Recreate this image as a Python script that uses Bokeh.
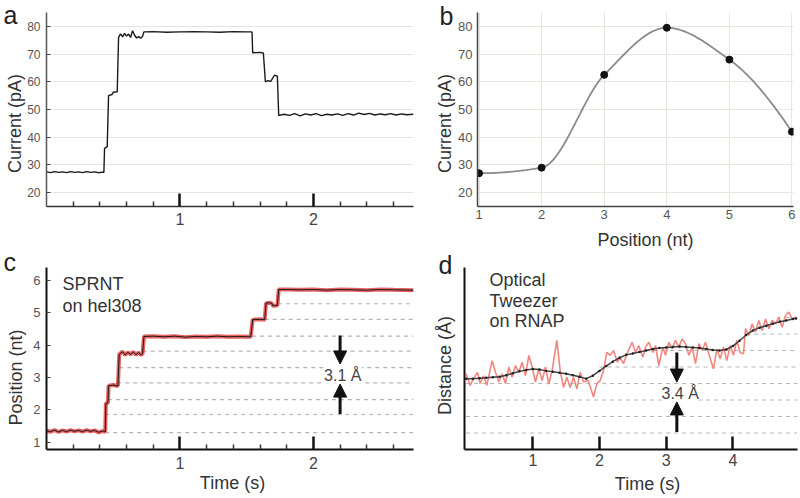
import numpy as np
from bokeh.plotting import figure
from bokeh.models import Range1d, FixedTicker, Label, Arrow, NormalHead, GridBox
from bokeh.layouts import row, column
from bokeh.embed import file_html
from bokeh.resources import INLINE

FONT = "Liberation Sans"

# ---------------- data ----------------
# panel a: current trace (time s, current pA)
a_time = [0.00, 0.03, 0.06, 0.09, 0.12, 0.15, 0.18, 0.21, 0.24, 0.27, 0.30, 0.33, 0.36, 0.39, 0.42, 0.43,
          0.435, 0.455, 0.465, 0.49, 0.50, 0.53, 0.54, 0.555, 0.57, 0.585, 0.60, 0.615, 0.63, 0.645, 0.66,
          0.675, 0.69, 0.705, 0.72, 0.73, 0.80, 0.90, 1.00, 1.10, 1.20, 1.30, 1.40, 1.50, 1.54, 1.545, 1.60,
          1.625, 1.64, 1.66, 1.68, 1.695, 1.71, 1.73, 1.74, 1.78, 1.82, 1.86, 1.90, 1.94, 1.98, 2.02, 2.06,
          2.10, 2.14, 2.18, 2.22, 2.26, 2.30, 2.34, 2.38, 2.42, 2.46, 2.50, 2.54, 2.58, 2.62, 2.66, 2.70, 2.75]
a_current = [27.5, 27.2, 27.6, 27.3, 27.5, 27.2, 27.6, 27.3, 27.5, 27.2, 27.6, 27.3, 27.5, 27.2, 27.4, 27.3,
             36.0, 36.6, 55.0, 55.4, 56.2, 56.4, 76.0, 77.3, 76.2, 77.5, 76.5, 77.2, 76.0, 78.4, 76.8,
             75.8, 76.3, 75.7, 76.4, 78.0, 78.1, 77.9, 78.0, 78.1, 78.0, 77.9, 78.1, 78.0, 78.0, 70.5, 70.6,
             70.4, 60.0, 60.4, 60.1, 61.3, 62.4, 62.0, 47.8, 48.3, 47.9, 48.5, 47.7, 48.4, 48.0, 48.5, 47.8,
             48.3, 48.0, 48.4, 47.9, 48.5, 48.0, 48.7, 48.2, 48.6, 48.0, 48.4, 48.1, 48.5, 48.0, 48.4, 48.1, 48.3]
a_yticks = [20, 30, 40, 50, 60, 70, 80]

# panel b: current per position
b_position = [1, 2, 3, 4, 5, 6]
b_current = [27.0, 29.0, 62.5, 79.5, 68.0, 42.0]

# panel c: SPRNT position trace (time s, position nt)
c_time = [0.00, 0.03, 0.06, 0.09, 0.12, 0.15, 0.18, 0.21, 0.24, 0.27, 0.30, 0.33, 0.36, 0.39, 0.42, 0.44,
          0.445, 0.46, 0.465, 0.50, 0.535, 0.545, 0.57, 0.59, 0.61, 0.63, 0.65, 0.67, 0.69, 0.71, 0.72,
          0.73, 0.80, 0.88, 0.96, 1.04, 1.12, 1.20, 1.28, 1.36, 1.44, 1.53, 1.545, 1.60, 1.635, 1.645, 1.67,
          1.69, 1.695, 1.73, 1.74, 1.80, 1.90, 2.00, 2.10, 2.20, 2.30, 2.40, 2.50, 2.60, 2.75]
c_position = [1.36, 1.33, 1.38, 1.32, 1.37, 1.33, 1.38, 1.34, 1.37, 1.33, 1.38, 1.34, 1.37, 1.31, 1.35, 1.33,
              2.20, 2.22, 2.75, 2.77, 2.74, 3.72, 3.80, 3.70, 3.78, 3.72, 3.79, 3.71, 3.77, 3.70, 3.74,
              4.27, 4.28, 4.26, 4.28, 4.25, 4.27, 4.26, 4.28, 4.26, 4.27, 4.26, 4.79, 4.80, 4.79, 5.30, 5.31,
              5.29, 5.22, 5.23, 5.72, 5.72, 5.71, 5.72, 5.70, 5.72, 5.71, 5.70, 5.72, 5.71, 5.70]
c_levels = [1.30, 1.86, 2.32, 2.84, 3.31, 3.82, 4.28, 4.80, 5.28]
c_level_start = [0.44, 0.44, 0.46, 0.53, 0.545, 0.72, 1.54, 1.635, 1.735]
c_yticks = [1, 2, 3, 4, 5, 6]

# panel d: optical tweezer (time s, distance A)
d_raw = [(0.00, 15.6), (0.06, 13.2), (0.11, 14.6), (0.17, 15.9), (0.21, 13.6), (0.26, 15.2), (0.31, 13.2),
         (0.39, 18.3), (0.44, 15.9), (0.49, 13.9), (0.54, 15.6), (0.59, 13.6), (0.64, 17.0), (0.69, 14.9),
         (0.74, 17.3), (0.79, 15.9), (0.84, 18.0), (0.89, 15.2), (0.94, 19.4), (0.99, 17.0), (1.04, 13.9),
         (1.09, 16.6), (1.14, 14.2), (1.19, 17.0), (1.24, 13.5), (1.29, 16.3), (1.36, 22.5), (1.41, 16.3),
         (1.46, 12.8), (1.51, 14.9), (1.56, 12.8), (1.61, 14.9), (1.66, 12.5), (1.71, 15.9), (1.76, 13.9),
         (1.83, 14.2), (1.91, 10.8), (1.96, 13.6), (2.01, 14.2), (2.06, 16.3), (2.11, 20.0), (2.16, 19.4),
         (2.21, 20.4), (2.27, 18.0), (2.31, 19.0), (2.36, 17.7), (2.42, 20.0), (2.49, 22.1), (2.54, 20.0),
         (2.59, 21.4), (2.65, 19.0), (2.69, 21.1), (2.74, 22.1), (2.80, 20.0), (2.84, 21.4), (2.89, 17.3),
         (2.95, 21.1), (2.99, 19.4), (3.04, 22.1), (3.09, 20.7), (3.14, 22.5), (3.19, 21.1), (3.24, 22.8),
         (3.29, 21.8), (3.34, 19.4), (3.39, 21.1), (3.44, 17.7), (3.49, 21.8), (3.54, 20.4), (3.59, 22.1),
         (3.64, 19.7), (3.71, 16.6), (3.76, 20.7), (3.81, 18.7), (3.86, 21.1), (3.91, 18.3), (3.96, 21.4),
         (4.01, 19.4), (4.06, 22.5), (4.11, 20.0), (4.16, 19.7), (4.19, 24.9), (4.24, 23.5), (4.29, 25.9),
         (4.34, 24.2), (4.39, 26.6), (4.44, 24.5), (4.49, 26.9), (4.54, 24.9), (4.59, 26.6), (4.64, 25.9),
         (4.69, 27.3), (4.74, 25.2), (4.79, 27.6), (4.84, 28.3), (4.89, 26.9), (4.95, 27.3)]
d_fit_time = [0.0, 0.1, 0.2, 0.3, 0.4, 0.5, 0.6, 0.7, 0.8, 0.9, 1.0, 1.1, 1.2, 1.3, 1.4, 1.5, 1.6, 1.7, 1.8,
              1.9, 2.0, 2.1, 2.2, 2.3, 2.4, 2.5, 2.6, 2.7, 2.8, 2.9, 3.0, 3.1, 3.2, 3.3, 3.4, 3.5, 3.6, 3.7,
              3.8, 3.9, 4.0, 4.1, 4.2, 4.3, 4.4, 4.5, 4.6, 4.7, 4.8, 4.9, 4.95]
d_fit_dist = [14.6, 14.6, 14.7, 14.8, 14.9, 15.0, 15.3, 15.7, 16.1, 16.4, 16.6, 16.5, 16.2, 16.0, 15.8, 15.6,
              15.3, 15.0, 14.6, 15.2, 16.2, 17.2, 18.1, 18.9, 19.5, 19.8, 20.1, 20.4, 20.7, 20.9, 21.0, 21.1,
              21.2, 21.1, 21.0, 20.9, 20.7, 20.5, 20.4, 20.6, 21.3, 22.4, 23.6, 24.5, 25.1, 25.5, 25.9, 26.3,
              26.6, 26.9, 27.0]
d_levels = [3.4, 6.8, 10.2, 13.6, 17.0, 20.4, 23.8, 27.2]
d_level_start = [0.0, 0.0, 0.0, 0.0, 2.0, 2.7, 4.2, 4.8]
d_xticks = [1, 2, 3, 4]

time_minor = [0.2, 0.4, 0.6, 0.8, 1.2, 1.4, 1.6, 1.8, 2.2, 2.4, 2.6]

# texts placed on the page: (text, x, y, font px, rotated, align)
page_texts = [
    ("a", 3, 14, 25, False, "left"),
    ("b", 439, 15, 25, False, "left"),
    ("c", 3, 261, 25, False, "left"),
    ("d", 438, 264, 25, False, "left"),
    ("Current (pA)", 14, 123, 18, True, "center"),
    ("Current (pA)", 444, 123, 18, True, "center"),
    ("Position (nt)", 645, 239, 18, False, "center"),
    ("Position (nt)", 15, 377, 18, True, "center"),
    ("Time (s)", 232, 482, 18, False, "center"),
    ("Distance (Å)", 444, 365, 18, True, "center"),
    ("Time (s)", 647, 483, 18, False, "center"),
    ("SPRNT", 62, 283, 18, False, "left"),
    ("on hel308", 62, 305, 18, False, "left"),
    ("Optical", 489, 279, 18, False, "left"),
    ("Tweezer", 489, 300, 18, False, "left"),
    ("on RNAP", 489, 320, 18, False, "left"),
]


def pchip(xs, ys, n=40):
    x = np.asarray(xs, float)
    y = np.asarray(ys, float)
    h = np.diff(x)
    delta = np.diff(y) / h
    d = np.zeros_like(y)
    for k in range(1, len(x) - 1):
        if delta[k - 1] * delta[k] > 0:
            w1 = 2 * h[k] + h[k - 1]
            w2 = h[k] + 2 * h[k - 1]
            d[k] = (w1 + w2) / (w1 / delta[k - 1] + w2 / delta[k])

    def end(h0, h1, d0, d1):
        dd = ((2 * h0 + h1) * d0 - h0 * d1) / (h0 + h1)
        if np.sign(dd) != np.sign(d0):
            dd = 0.0
        elif np.sign(d0) != np.sign(d1) and abs(dd) > abs(3 * d0):
            dd = 3 * d0
        return dd

    d[0] = end(h[0], h[1], delta[0], delta[1])
    d[-1] = end(h[-1], h[-2], delta[-1], delta[-2])
    xx, yy = [], []
    s = np.linspace(0, 1, n)
    h00 = 2 * s**3 - 3 * s**2 + 1
    h10 = s**3 - 2 * s**2 + s
    h01 = -2 * s**3 + 3 * s**2
    h11 = s**3 - s**2
    for k in range(len(x) - 1):
        xx.extend(x[k] + s * h[k])
        yy.extend(h00 * y[k] + h10 * h[k] * d[k] + h01 * y[k + 1] + h11 * h[k] * d[k + 1])
    return xx, yy


def make_fig(width, height, xr, yr, bl, br, bt, bb):
    p = figure(width=width, height=height, x_range=xr, y_range=yr, output_backend="svg",
               toolbar_location=None, min_border_left=bl, min_border_right=br,
               min_border_top=bt, min_border_bottom=bb)
    p.outline_line_color = None
    p.background_fill_color = "white"
    p.border_fill_color = "white"
    return p


def style_time_axis(ax, ticks, minor, label_size, standoff, line_w=1.5, line_c="#333333"):
    ax.ticker = FixedTicker(ticks=ticks, minor_ticks=minor)
    ax.axis_line_color = line_c
    ax.axis_line_width = line_w
    ax.major_tick_in = 13
    ax.major_tick_out = 0
    ax.major_tick_line_width = 2.5
    ax.major_tick_line_color = "#111111"
    ax.minor_tick_in = 5
    ax.minor_tick_out = 0
    ax.minor_tick_line_width = 1.5
    ax.minor_tick_line_color = "#333333" if minor else None
    ax.major_label_text_font = FONT
    ax.major_label_text_font_size = f"{label_size}px"
    ax.major_label_text_color = "#444444"
    ax.major_label_standoff = standoff


def style_value_axis(ax, ticks, label_size, standoff, line_w=1.5, line_c="#444444"):
    ax.ticker = FixedTicker(ticks=ticks)
    ax.axis_line_color = line_c
    ax.axis_line_width = line_w
    ax.major_tick_in = 4
    ax.major_tick_out = 0
    ax.major_tick_line_color = "#444444"
    ax.minor_tick_line_color = None
    ax.major_label_text_font = FONT
    ax.major_label_text_font_size = f"{label_size}px"
    ax.major_label_text_color = "#555555"
    ax.major_label_standoff = standoff


GRID = "#ebe4dc"
HEAD = dict(size=13, fill_color="#111111", line_color="#111111")

# ---------------- panel a ----------------
pa = make_fig(418, 250, Range1d(0, 2.75), Range1d(15, 85), 46, 5, 12, 44)
style_time_axis(pa.xaxis[0], [1, 2], time_minor, 16, 6)
style_value_axis(pa.yaxis[0], a_yticks, 12, 6, line_c="#555555")
pa.xgrid.visible = False
pa.ygrid.ticker = FixedTicker(ticks=a_yticks)
pa.ygrid.grid_line_color = GRID
pa.line(a_time, a_current, line_color="#1a1a1a", line_width=1.4)

# ---------------- panel b ----------------
pb = make_fig(380, 250, Range1d(0.975, 6.025), Range1d(15, 85), 59, 5, 12, 44)
style_value_axis(pb.xaxis[0], b_position, 13, 3)
style_value_axis(pb.yaxis[0], a_yticks, 13, 5)
pb.xaxis[0].major_tick_in = 0
pb.yaxis[0].major_tick_in = 0
pb.xgrid.ticker = FixedTicker(ticks=b_position)
pb.ygrid.ticker = FixedTicker(ticks=a_yticks)
pb.xgrid.grid_line_color = GRID
pb.ygrid.grid_line_color = GRID
sx, sy = pchip(b_position, b_current)
pb.line(sx, sy, line_color="#8a8a8a", line_width=1.8)
pb.scatter(b_position, b_current, size=7, marker="circle", fill_color="#111111", line_color="#111111")

# ---------------- panel c ----------------
pc = make_fig(418, 246, Range1d(0, 2.75), Range1d(0.78, 6.4), 46, 5, 17, 47)
style_time_axis(pc.xaxis[0], [1, 2], time_minor, 16, 7, line_w=2, line_c="#111111")
style_value_axis(pc.yaxis[0], c_yticks, 13, 6, line_w=2, line_c="#111111")
pc.xgrid.visible = False
pc.ygrid.visible = False
pc.segment(x0=c_level_start, y0=c_levels, x1=[2.75] * len(c_levels), y1=c_levels,
           line_color="#b5b5b5", line_width=1.2, line_dash="4 4")
pc.line(c_time, c_position, line_color="#e03a3a", line_width=4, line_alpha=0.8)
pc.line(c_time, c_position, line_color="#1a1a1a", line_width=1)
pc.add_layout(Arrow(end=NormalHead(**HEAD), x_start=2.2, y_start=4.30, x_end=2.2, y_end=3.42,
                    line_width=3, line_color="#111111"))
pc.add_layout(Arrow(end=NormalHead(**HEAD), x_start=2.2, y_start=1.88, x_end=2.2, y_end=2.80,
                    line_width=3, line_color="#111111"))
pc.add_layout(Label(x=2.22, y=3.08, text="3.1 Å", text_font=FONT, text_font_size="16px",
                    text_color="#444444", text_align="center", text_baseline="middle",
                    background_fill_color="white"))

# ---------------- panel d ----------------
pd_ = make_fig(380, 246, Range1d(-0.025, 4.97), Range1d(0, 37.5), 46, 1, 17, 47)
style_time_axis(pd_.xaxis[0], d_xticks, [], 16, 4, line_w=2, line_c="#111111")
pd_.yaxis[0].ticker = FixedTicker(ticks=[])
pd_.yaxis[0].axis_line_color = "#111111"
pd_.yaxis[0].axis_line_width = 2
pd_.yaxis[0].major_tick_line_color = None
pd_.yaxis[0].minor_tick_line_color = None
pd_.yaxis[0].major_label_text_font_size = "0px"
pd_.xgrid.visible = False
pd_.ygrid.visible = False
pd_.segment(x0=d_level_start, y0=d_levels, x1=[4.97] * len(d_levels), y1=d_levels,
            line_color="#b5b5b5", line_width=1.2, line_dash="4 4")
d_t = [t for t, v in d_raw]
d_v = [v for t, v in d_raw]
pd_.line(d_t, d_v, line_color="#f08680", line_width=1.6)
pd_.line(d_fit_time, d_fit_dist, line_color="#444444", line_width=1.5)
pd_.scatter(d_fit_time, d_fit_dist, size=2.5, marker="circle", fill_color="#222222", line_color=None)
pd_.add_layout(Arrow(end=NormalHead(**HEAD), x_start=3.16, y_start=20.0, x_end=3.16, y_end=13.9,
                     line_width=3, line_color="#111111"))
pd_.add_layout(Arrow(end=NormalHead(**HEAD), x_start=3.16, y_start=3.6, x_end=3.16, y_end=9.8,
                     line_width=3, line_color="#111111"))
pd_.add_layout(Label(x=3.21, y=11.6, text="3.4 Å", text_font=FONT, text_font_size="16px",
                     text_color="#444444", text_align="center", text_baseline="middle",
                     background_fill_color="white"))

# ---------------- transparent text layer over the whole page ----------------
ov = figure(width=798, height=496, x_range=Range1d(0, 798), y_range=Range1d(496, 0),
            output_backend="svg", toolbar_location=None, min_border=0,
            min_border_left=0, min_border_right=0, min_border_top=0, min_border_bottom=0,
            x_axis_location=None, y_axis_location=None)
ov.grid.visible = False
ov.outline_line_color = None
ov.background_fill_alpha = 0
ov.border_fill_alpha = 0
for txt, x, y, size, rot, align in page_texts:
    color = "#222222" if size > 20 else "#333333"
    ov.add_layout(Label(x=x, y=y, text=txt, text_font=FONT, text_font_size=f"{size}px",
                        text_color=color, angle=(np.pi / 2 if rot else 0.0),
                        text_align=align, text_baseline="alphabetic"))

panels = column(row(pa, pb), row(pc, pd_))
layout = GridBox(children=[(panels, 0, 0), (ov, 0, 0)])
open("out.html", "w").write(file_html(layout, INLINE))
